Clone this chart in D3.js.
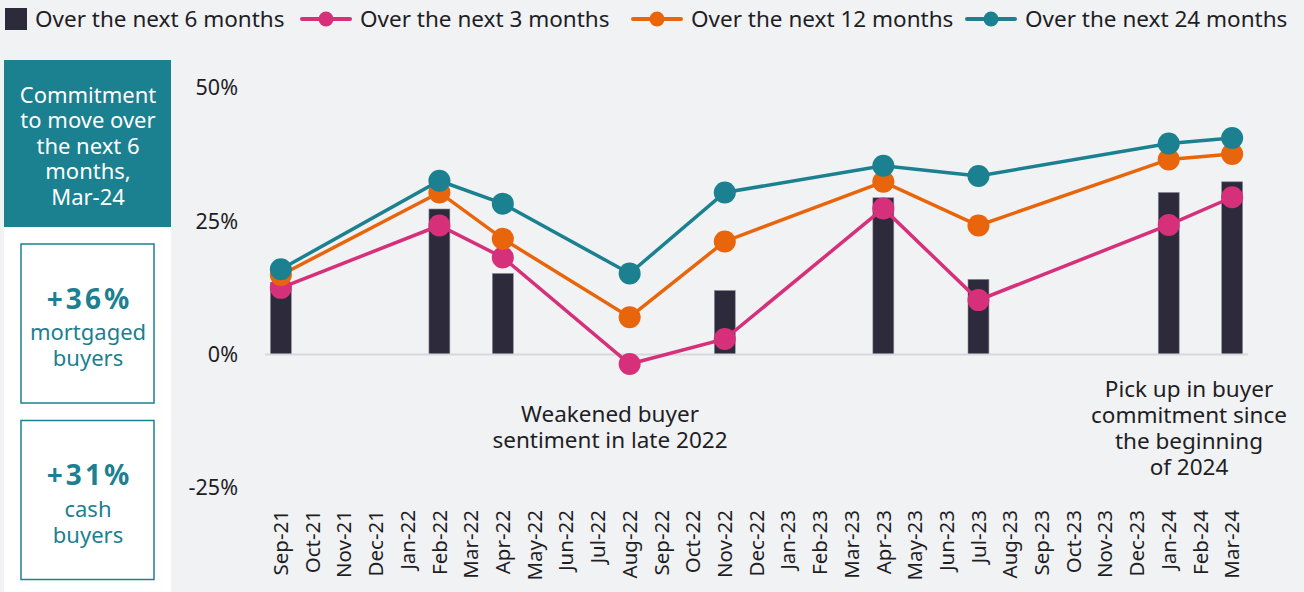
<!DOCTYPE html>
<html>
<head>
<meta charset="utf-8">
<script src="https://cdn.jsdelivr.net/npm/d3@7"></script>
<style>
  body { margin: 0; background: #f1f2f4; }
  svg { display: block; font-family: 'Noto Sans', sans-serif; }
</style>
</head>
<body>
<div id="chart"></div>
<script>
// Categories (monthly survey waves)
const months = [
  'Sep-21', 'Oct-21', 'Nov-21', 'Dec-21', 'Jan-22', 'Feb-22', 'Mar-22', 'Apr-22',
  'May-22', 'Jun-22', 'Jul-22', 'Aug-22', 'Sep-22', 'Oct-22', 'Nov-22', 'Dec-22',
  'Jan-23', 'Feb-23', 'Mar-23', 'Apr-23', 'May-23', 'Jun-23', 'Jul-23', 'Aug-23',
  'Sep-23', 'Oct-23', 'Nov-23', 'Dec-23', 'Jan-24', 'Feb-24', 'Mar-24',
];

// Survey months that have data
const surveyMonths = ['Sep-21', 'Feb-22', 'Apr-22', 'Aug-22', 'Nov-22', 'Apr-23', 'Jul-23', 'Jan-24', 'Mar-24'];

// Series values (%), null = no bar for that wave
const next6 = [13.5, 27.3, 15.2, null, 12.0, 29.4, 14.1, 30.4, 32.4];
const next3 = [12.5, 24.2, 18.2, -1.8, 2.9, 27.4, 10.2, 24.3, 29.5];
const next12 = [14.9, 30.4, 21.7, 7.0, 21.2, 32.4, 24.2, 36.6, 37.6];
const next24 = [16.0, 32.6, 28.3, 15.2, 30.4, 35.4, 33.5, 39.6, 40.6];

const yTicks = [-25, 0, 25, 50];

const colors = {
  bar: '#2d2a3c',
  pink: '#d6307a',
  orange: '#e9650b',
  teal: '#1b8090',
  text: '#1e1e24',
};

const svgWidth = 1304;
const svgHeight = 592;

const svg = d3
  .select('#chart')
  .append('svg')
  .attr('width', svgWidth)
  .attr('height', svgHeight);

svg.append('rect').attr('width', svgWidth).attr('height', svgHeight).attr('fill', '#f1f2f4');

// Scales
const x = d3.scaleBand().domain(months).range([265, 1248]).paddingInner(0.34).paddingOuter(0.17);
const xc = (m) => x(m) + x.bandwidth() / 2;
const y = d3.scaleLinear().domain([-25, 50]).range([487.7, 88]);

// ---------- Legend ----------
const legend = svg.append('g').attr('font-size', 22.5).attr('fill', colors.text);
legend.append('rect').attr('x', 5).attr('y', 8).attr('width', 22).attr('height', 22).attr('fill', colors.bar);
legend.append('text').attr('x', 35).attr('y', 27).text('Over the next 6 months');

const lineItems = [
  { x: 302, color: colors.pink, label: 'Over the next 3 months' },
  { x: 633, color: colors.orange, label: 'Over the next 12 months' },
  { x: 967, color: colors.teal, label: 'Over the next 24 months' },
];
lineItems.forEach((d) => {
  legend.append('line')
    .attr('x1', d.x).attr('x2', d.x + 48).attr('y1', 19).attr('y2', 19)
    .attr('stroke', d.color).attr('stroke-width', 4).attr('stroke-linecap', 'round');
  legend.append('circle').attr('cx', d.x + 24).attr('cy', 19).attr('r', 7.5).attr('fill', d.color);
  legend.append('text').attr('x', d.x + 58).attr('y', 27).text(d.label);
});

// ---------- Left panel ----------
const panel = svg.append('g');
panel.append('rect').attr('x', 4).attr('y', 60).attr('width', 167).attr('height', 532).attr('fill', '#ffffff');
panel.append('rect').attr('x', 4).attr('y', 60).attr('width', 167).attr('height', 167).attr('fill', colors.teal);

const headLines = ['Commitment', 'to move over', 'the next 6', 'months,', 'Mar-24'];
panel.append('text')
  .attr('text-anchor', 'middle')
  .attr('fill', '#ffffff')
  .attr('font-size', 22)
  .selectAll('tspan')
  .data(headLines)
  .join('tspan')
  .attr('x', 88)
  .attr('y', (d, i) => 102.5 + i * 25.5)
  .text((d) => d);

const boxes = [
  { y: 244, big: '+36%', lines: ['mortgaged', 'buyers'] },
  { y: 420.5, big: '+31%', lines: ['cash', 'buyers'] },
];
boxes.forEach((b) => {
  panel.append('rect')
    .attr('x', 21).attr('y', b.y).attr('width', 133).attr('height', 159)
    .attr('fill', 'none').attr('stroke', colors.teal).attr('stroke-width', 1.5);
  panel.append('text')
    .attr('x', 89.5).attr('y', b.y + 64.5)
    .attr('text-anchor', 'middle').attr('fill', colors.teal)
    .attr('font-size', 28).attr('font-weight', 700)
    .attr('letter-spacing', 3)
    .text(b.big);
  panel.append('text')
    .attr('text-anchor', 'middle').attr('fill', colors.teal).attr('font-size', 22)
    .selectAll('tspan')
    .data(b.lines)
    .join('tspan')
    .attr('x', 88)
    .attr('y', (d, i) => b.y + 96 + i * 26)
    .text((d) => d);
});

// ---------- Axes ----------
const yAxis = svg.append('g')
  .attr('transform', 'translate(238,0)')
  .call(d3.axisLeft(y).tickValues(yTicks).tickSize(0).tickPadding(0).tickFormat((d) => d + '%'));
yAxis.select('.domain').remove();
yAxis.selectAll('text').attr('font-size', 21.5).attr('fill', colors.text).attr('font-family', "'Noto Sans', sans-serif");

const xAxis = svg.append('g')
  .attr('transform', 'translate(0,510)')
  .call(d3.axisBottom(x).tickSize(0).tickPadding(0));
xAxis.select('.domain').remove();
xAxis.selectAll('text')
  .attr('font-size', 20.5)
  .attr('fill', colors.text)
  .attr('font-family', "'Noto Sans', sans-serif")
  .attr('transform', 'rotate(-90)')
  .attr('text-anchor', 'end')
  .attr('x', 0)
  .attr('y', 0)
  .attr('dy', '0.35em');

// ---------- Bars ----------
const barData = surveyMonths.map((m, i) => ({ m, v: next6[i] })).filter((d) => d.v !== null);
svg.append('g')
  .selectAll('rect')
  .data(barData)
  .join('rect')
  .attr('x', (d) => x(d.m))
  .attr('width', x.bandwidth())
  .attr('y', (d) => y(Math.max(0, d.v)))
  .attr('height', (d) => Math.abs(y(d.v) - y(0)))
  .attr('fill', colors.bar)
  .attr('stroke', '#8d8b96')
  .attr('stroke-width', 0.6);

// zero line
svg.append('line')
  .attr('x1', 265).attr('x2', 1248)
  .attr('y1', y(0)).attr('y2', y(0))
  .attr('stroke', '#d8d8dc').attr('stroke-width', 2);

// ---------- Lines ----------
const series = [
  { values: next3, color: colors.pink },
  { values: next12, color: colors.orange },
  { values: next24, color: colors.teal },
];
const line = d3.line().x((d) => xc(d.m)).y((d) => y(d.v));
series.forEach((s) => {
  const pts = surveyMonths.map((m, i) => ({ m, v: s.values[i] })).filter((d) => d.v !== null);
  svg.append('path')
    .datum(pts)
    .attr('d', line)
    .attr('fill', 'none')
    .attr('stroke', s.color)
    .attr('stroke-width', 3.5);
  svg.append('g')
    .selectAll('circle')
    .data(pts)
    .join('circle')
    .attr('cx', (d) => xc(d.m))
    .attr('cy', (d) => y(d.v))
    .attr('r', 11)
    .attr('fill', s.color);
});

// ---------- Annotations ----------
const notes = [
  { x: 610, y: 422, lines: ['Weakened buyer', 'sentiment in late 2022'] },
  { x: 1189, y: 397, lines: ['Pick up in buyer', 'commitment since', 'the beginning', 'of 2024'] },
];
notes.forEach((n) => {
  svg.append('text')
    .attr('text-anchor', 'middle').attr('fill', colors.text).attr('font-size', 22.5)
    .selectAll('tspan')
    .data(n.lines)
    .join('tspan')
    .attr('x', n.x)
    .attr('y', (d, i) => n.y + i * 26)
    .text((d) => d);
});
</script>
</body>
</html>
